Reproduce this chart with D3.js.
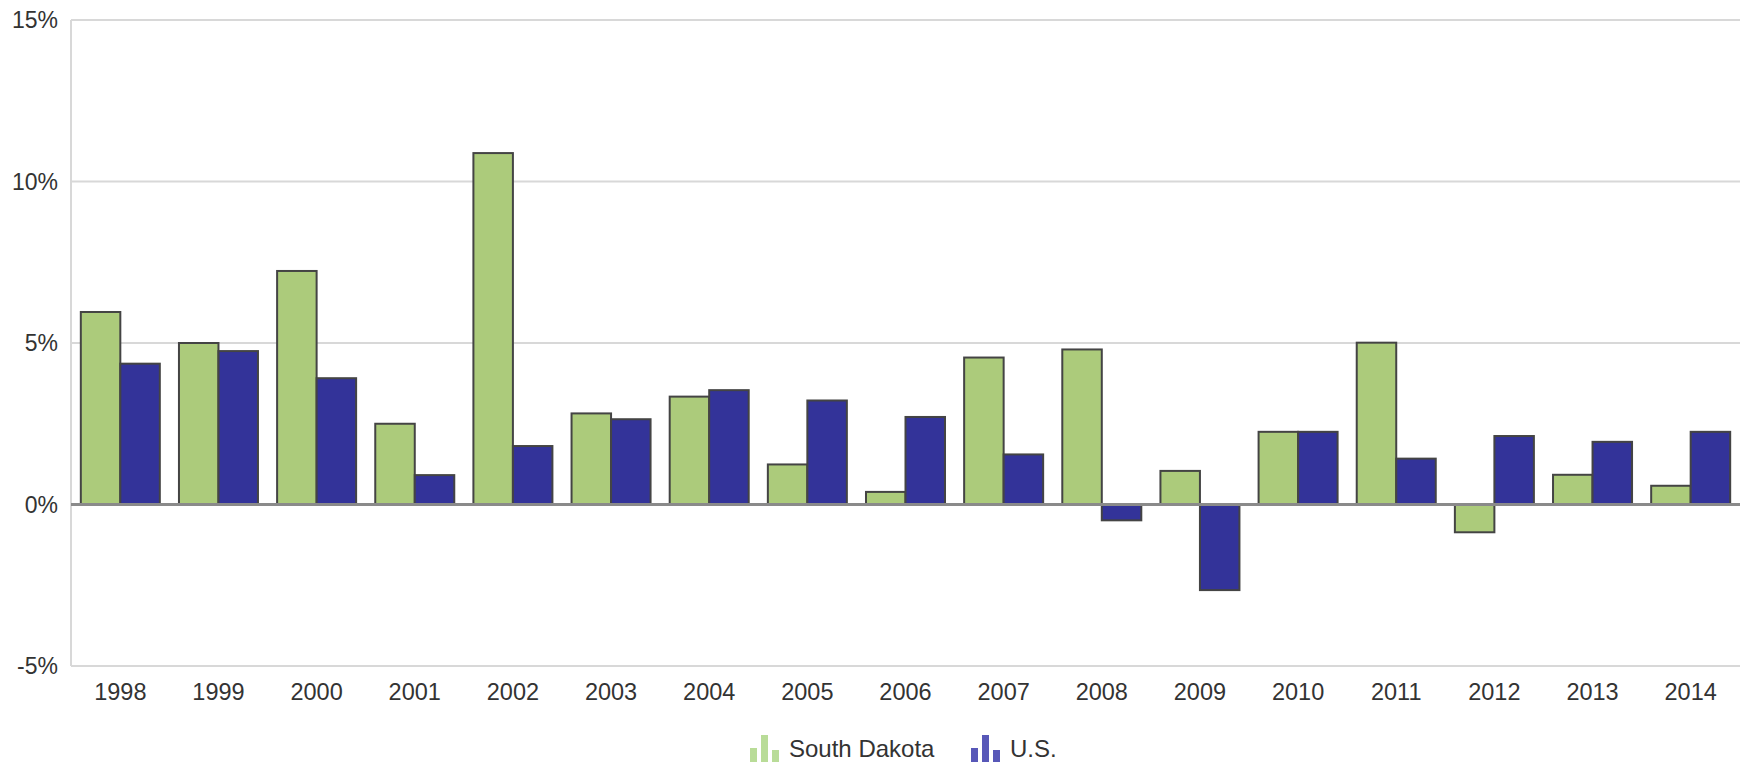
<!DOCTYPE html>
<html>
<head>
<meta charset="utf-8">
<script src="https://cdn.jsdelivr.net/npm/d3@7"></script>
<style>
  body { margin: 0; background: #fff; }
  svg { display: block; font-family: "Liberation Sans", Arial, sans-serif; }
</style>
</head>
<body>
<svg width="1748" height="766"></svg>
<script>
// data (annual % change)
var years = ["1998","1999","2000","2001","2002","2003","2004","2005","2006","2007","2008","2009","2010","2011","2012","2013","2014"];
var southDakota = [5.96, 5.0, 7.23, 2.5, 10.88, 2.82, 3.34, 1.24, 0.39, 4.55, 4.8, 1.04, 2.25, 5.01, -0.86, 0.92, 0.58];
var us = [4.36, 4.75, 3.91, 0.91, 1.81, 2.64, 3.54, 3.22, 2.71, 1.55, -0.49, -2.65, 2.25, 1.42, 2.12, 1.94, 2.25];
var seriesNames = ["South Dakota", "U.S."];
var yTicks = [-5, 0, 5, 10, 15];

var colors = ["#accb7b", "#333399"];
var iconColors = ["#b9dc98", "#5858b8"];

var svg = d3.select("svg");

// note: "top" is a reserved window global, so use plotTop etc
var plotLeft = 71, plotRight = 1740, plotTop = 20, plotBottom = 666;

var y = d3.scaleLinear()
    .domain([-5, 15])
    .range([plotBottom, plotTop]);

var x = d3.scaleBand()
    .domain(years)
    .range([plotLeft, plotRight])
    .paddingInner(0.195)
    .paddingOuter(0.1);

var x1 = d3.scaleBand()
    .domain([0, 1])
    .range([0, x.bandwidth()]);

// gridlines
svg.append("g")
    .selectAll("line")
    .data(yTicks.filter(function(d) { return d != 0; }))
    .enter().append("line")
    .attr("x1", plotLeft)
    .attr("x2", plotRight)
    .attr("y1", function(d) { return y(d); })
    .attr("y2", function(d) { return y(d); })
    .attr("stroke", "#d8d8d8")
    .attr("stroke-width", 2);

// left axis line
svg.append("line")
    .attr("x1", plotLeft).attr("x2", plotLeft)
    .attr("y1", plotTop).attr("y2", plotBottom)
    .attr("stroke", "#d8d8d8")
    .attr("stroke-width", 2);

// y labels
svg.append("g")
    .selectAll("text")
    .data(yTicks)
    .enter().append("text")
    .attr("x", 58)
    .attr("y", function(d) { return y(d); })
    .attr("dy", "0.35em")
    .attr("text-anchor", "end")
    .attr("font-size", 23)
    .attr("fill", "#333")
    .text(function(d) { return d + "%"; });

// bars
var rows = years.map(function(yr, i) { return {year: yr, vals: [southDakota[i], us[i]]}; });

var group = svg.append("g")
    .selectAll("g")
    .data(rows)
    .enter().append("g")
    .attr("transform", function(d) { return "translate(" + x(d.year) + ",0)"; });

group.selectAll("rect")
    .data(function(d) { return d.vals; })
    .enter().append("rect")
    .attr("x", function(d, i) { return x1(i); })
    .attr("width", x1.bandwidth())
    .attr("y", function(d) { return y(Math.max(0, d)); })
    .attr("height", function(d) { return Math.abs(y(d) - y(0)); })
    .attr("fill", function(d, i) { return colors[i]; })
    .attr("stroke", "#444")
    .attr("stroke-width", 2);

// zero line
svg.append("line")
    .attr("x1", plotLeft).attr("x2", plotRight)
    .attr("y1", y(0)).attr("y2", y(0))
    .attr("stroke", "#8a8a8a")
    .attr("stroke-width", 3);

// x labels
svg.append("g")
    .selectAll("text")
    .data(years)
    .enter().append("text")
    .attr("x", function(d) { return x(d) + x.bandwidth() / 2; })
    .attr("y", 700)
    .attr("text-anchor", "middle")
    .attr("font-size", 23.5)
    .attr("fill", "#333")
    .text(function(d) { return d; });

// legend
var legendX = [750, 971];
var barH = [14, 27, 12];
var legend = svg.append("g")
    .selectAll("g")
    .data(seriesNames)
    .enter().append("g")
    .attr("transform", function(d, i) { return "translate(" + legendX[i] + ",0)"; });

legend.each(function(name, i) {
  var g = d3.select(this);
  [0, 11, 22].forEach(function(dx, k) {
    g.append("rect")
      .attr("x", dx)
      .attr("y", 762 - barH[k])
      .attr("width", 7)
      .attr("height", barH[k])
      .attr("fill", iconColors[i]);
  });
  g.append("text")
    .attr("x", 39)
    .attr("y", 757)
    .attr("font-size", 24)
    .attr("fill", "#333")
    .text(name);
});
</script>
</body>
</html>
